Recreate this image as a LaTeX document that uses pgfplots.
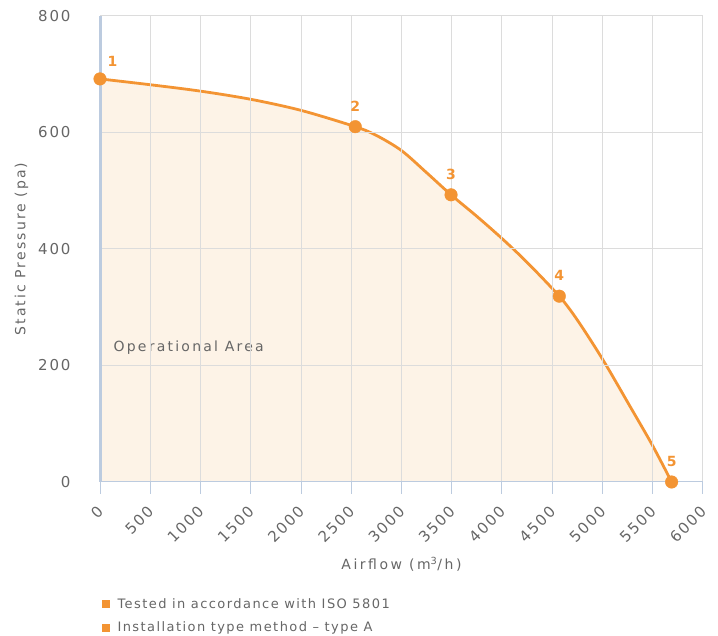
\documentclass[border=0pt]{standalone}
\usepackage{fontspec}
\setmainfont{DejaVu Sans}
\usepackage{pgfplots}
\pgfplotsset{compat=1.18}
\usepackage{pgfplotstable}
\definecolor{curve}{HTML}{F39433}
\definecolor{fillc}{HTML}{FDF3E7}
\definecolor{gridc}{HTML}{DCDCDC}
\definecolor{axisc}{HTML}{BCCBDF}
\definecolor{textc}{HTML}{666666}

\pgfplotstableread{
x y
0 692
500 682
1000 671
1500 657
2000 638
2540 610
2750 595
3000 569
3250 531
3493 493
3750 456
4000 418
4250 377
4570 319
4750 278
5000 211
5270 131
5500 62
5688 0
}\curvedata

\pgfplotstableread{
x y label
2540 610 2
3493 493 3
4570 319 4
5688 0 5
}\pointdata

\begin{document}
\begin{tikzpicture}[x=1pt,y=1pt]
\path[use as bounding box] (0,0) rectangle (718,636);
\begin{axis}[
  at={(100pt,154pt)}, anchor=south west,
  scale only axis, width=603pt, height=466pt,
  xmin=0, xmax=6000, ymin=0, ymax=800,
  xtick={0,500,...,6000}, ytick={0,200,...,800},
  clip=false,
  axis on top,
  axis x line*=bottom, axis y line*=left,
  axis line style={-, axisc, line width=1pt},
  y axis line style={line width=3pt},
  grid=major,
  major grid style={gridc, line width=1pt},
  xtick style={axisc, line width=1pt},
  ytick style={draw=none},
  tick align=outside,
  major tick length=12pt,
  scaled x ticks=false,
  /pgf/number format/.cd, 1000 sep={}, assume math mode=true,
  /pgfplots/.cd,
  ticklabel style={textc, font=\fontsize{15}{17}\selectfont\addfontfeatures{LetterSpace=12}},
  xticklabel style={rotate=45, anchor=east, yshift=-10.5pt, xshift=-6.5pt},
  yticklabel style={xshift=-14pt},
  xlabel={Airflow (m\textsuperscript{3}/h)},
  ylabel={Static Pressure (pa)},
  label style={textc, font=\fontsize{14}{16}\selectfont\addfontfeatures{LetterSpace=15}},
  xlabel style={at={(axis description cs:0.5,-0.177)}, anchor=center, font=\fontsize{14}{16}\selectfont\addfontfeatures{LetterSpace=18}},
  ylabel style={at={(axis description cs:-0.130,0.5)}, anchor=center},
]
\addplot[draw=none, fill=fillc, smooth] table[x=x,y=y] {\curvedata} \closedcycle;
\addplot[curve, line width=2.8pt, smooth] table[x=x,y=y] {\curvedata};
\addplot[only marks, mark=*, mark size=6.3pt, curve,
  nodes near coords, point meta=explicit symbolic,
  every node near coord/.style={anchor=south, yshift=12pt, text=curve, font=\fontsize{14}{16}\selectfont\bfseries}]
  table[x=x,y=y,meta=label] {\pointdata};
\addplot[only marks, mark=*, mark size=6.3pt, curve,
  nodes near coords, point meta=explicit symbolic,
  every node near coord/.style={anchor=south west, xshift=4pt, yshift=9pt, text=curve, font=\fontsize{14}{16}\selectfont\bfseries}]
  coordinates {(0,692) [1]};
\node[anchor=west, textc, font=\fontsize{14}{16}\selectfont\addfontfeatures{LetterSpace=16}] at (axis cs:100,231) {Operational Area};
\end{axis}
\fill[curve] (102,28) rectangle (110,36);
\node[anchor=west, textc, font=\fontsize{13}{15}\selectfont\addfontfeatures{LetterSpace=11}] at (114,32) {Tested in accordance with ISO 5801};
\fill[curve] (102,4) rectangle (110,12);
\node[anchor=west, textc, font=\fontsize{13}{15}\selectfont\addfontfeatures{LetterSpace=11}] at (114,8) {Installation type method – type A};
\end{tikzpicture}
\end{document}
